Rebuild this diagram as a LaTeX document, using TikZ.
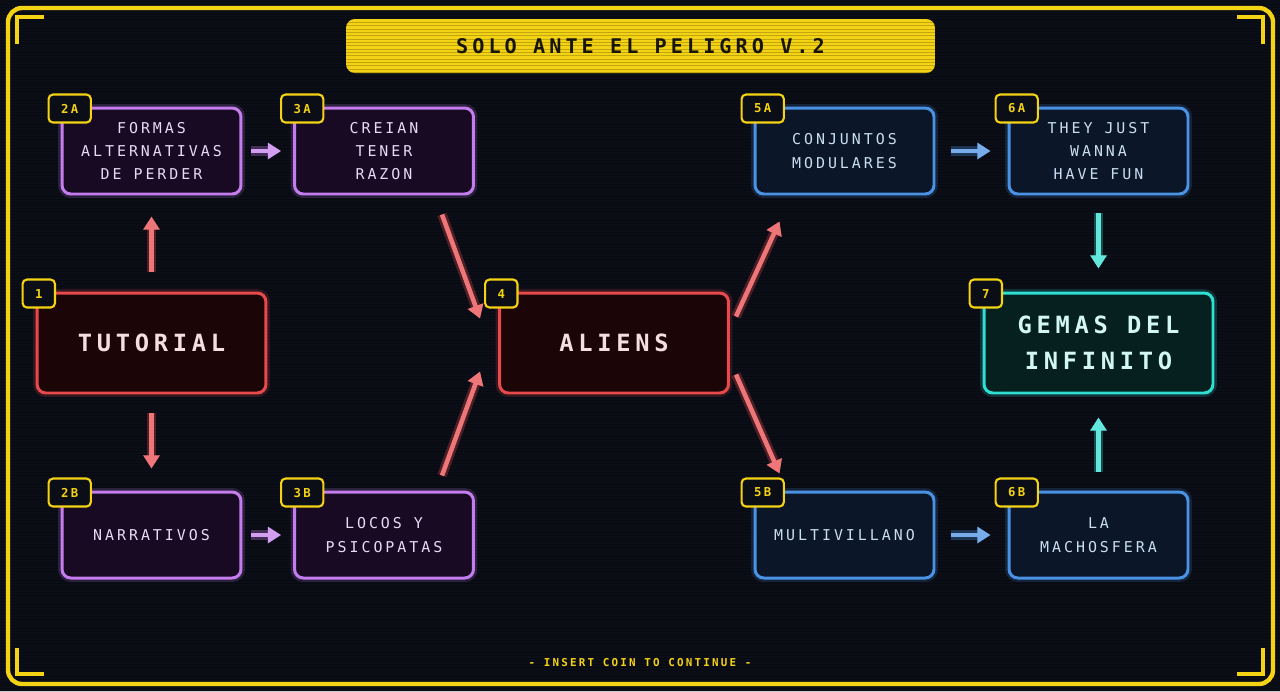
\documentclass[tikz,border=0pt]{standalone}
\usepackage{fontspec}
\usetikzlibrary{arrows.meta}
\newfontfamily\pixfont{DejaVu Sans Mono}[LetterSpace=20]
\definecolor{bg}{HTML}{0B0D17}
\definecolor{hyellow}{HTML}{F4D214}
\definecolor{titletext}{HTML}{17140A}
\definecolor{hred}{HTML}{E8494B}
\definecolor{hredfill}{HTML}{1C0507}
\definecolor{hredtext}{HTML}{F7DEDE}
\definecolor{hpurple}{HTML}{C47CEE}
\definecolor{hpurplefill}{HTML}{170A22}
\definecolor{hpurpletext}{HTML}{EBD8F5}
\definecolor{hblue}{HTML}{4A92E4}
\definecolor{hbluefill}{HTML}{0B1628}
\definecolor{hbluetext}{HTML}{CADDF2}
\definecolor{hcyan}{HTML}{2FDFD1}
\definecolor{hcyanfill}{HTML}{06201F}
\definecolor{hcyantext}{HTML}{D3F7F2}
\tikzset{
  box/.style={draw=#1, fill=#1fill, text=#1text, line width=1.7pt, rounded corners=5pt,
    minimum width=3.58cm, minimum height=1.72cm, align=center, inner sep=0pt,
    font=\pixfont\fontsize{8.5}{13.3}\selectfont,
    preaction={draw=#1, line width=4.5pt, opacity=.18}},
  bigbox/.style={box=#1, minimum width=4.58cm, minimum height=2cm,
    font=\pixfont\bfseries\fontsize{13.5}{20.4}\selectfont},
  badge/.style={draw=hyellow, fill=bg, text=hyellow, line width=1.2pt, rounded corners=2.5pt,
    minimum height=0.56cm, inner xsep=0.25cm, anchor=west,
    font=\pixfont\bfseries\fontsize{7}{7}\selectfont},
  flow/.style={draw=#1!75!white, line width=2.6pt, -{Triangle[length=7.5pt,width=9pt]},
    preaction={draw=#1, line width=5.5pt, opacity=.3}},
  scanline/.style={draw=black, opacity=.2, line width=.5pt},
  bracket/.style={draw=hyellow, line width=1.8pt}
}
\begin{document}
\begin{tikzpicture}[x=0.02cm, y=-0.02cm]
    \useasboundingbox (0,0) rectangle (1280,691);
    \fill[bg] (0,0) rectangle (1280,691);
    \foreach \y in {1,4,...,691}
        \draw[scanline] (0,\y) -- (1280,\y);

    %%draw the frame
    \draw[draw=hyellow, line width=2.5pt, rounded corners=8pt] (8,8) rectangle (1273,684);
        \draw[bracket] (17,44) -- (17,17) -- (44,17);
        \draw[bracket] (1237,17) -- (1263,17) -- (1263,44);
        \draw[bracket] (17,648) -- (17,674) -- (44,674);
        \draw[bracket] (1237,674) -- (1263,674) -- (1263,648);

    %%title and footer
    \node[fill=hyellow, rounded corners=5pt, minimum width=11.78cm, minimum height=1.08cm,
        text=titletext, font=\pixfont\bfseries\fontsize{11.5}{11.5}\selectfont,
        path picture={\foreach \k in {1,...,16}
            \draw[draw=black!60!hyellow, opacity=.35, line width=.5pt]
                ([yshift=-\k*1.9pt]path picture bounding box.north west) --
                ([yshift=-\k*1.9pt]path picture bounding box.north east);}]
        (title) at (640.5,46) {SOLO ANTE EL PELIGRO V.2};
    \node[text=hyellow, font=\pixfont\bfseries\fontsize{6.2}{6.2}\selectfont]
        (footer) at (640,663) {- INSERT COIN TO CONTINUE -};

    %%draw the boxes
    \node[box=hpurple] (n2a) at (151.5,151) {FORMAS\\ALTERNATIVAS\\DE PERDER};
    \node[box=hpurple] (n3a) at (384,151) {CREIAN\\TENER\\RAZON};
    \node[bigbox=hred] (n1) at (151.5,343) {TUTORIAL};
    \node[box=hpurple] (n2b) at (151.5,535) {NARRATIVOS};
    \node[box=hpurple] (n3b) at (384,535) {LOCOS Y\\PSICOPATAS};
    \node[bigbox=hred] (n4) at (614,343) {ALIENS};
    \node[box=hblue] (n5a) at (844.5,151) {CONJUNTOS\\MODULARES};
    \node[box=hblue] (n6a) at (1098.5,151) {THEY JUST\\WANNA\\HAVE FUN};
    \node[bigbox=hcyan] (n7) at (1098.5,343) {GEMAS DEL\\INFINITO};
    \node[box=hblue] (n5b) at (844.5,535) {MULTIVILLANO};
    \node[box=hblue] (n6b) at (1098.5,535) {LA\\MACHOSFERA};

    %%draw the badges
    \node[badge] (b1) at ([shift={(-14,2)}]n1.north west) {1};
    \node[badge] (b2a) at ([shift={(-13,2)}]n2a.north west) {2A};
    \node[badge] (b2b) at ([shift={(-13,2)}]n2b.north west) {2B};
    \node[badge] (b3a) at ([shift={(-13,2)}]n3a.north west) {3A};
    \node[badge] (b3b) at ([shift={(-13,2)}]n3b.north west) {3B};
    \node[badge] (b4) at ([shift={(-14,2)}]n4.north west) {4};
    \node[badge] (b5a) at ([shift={(-13,2)}]n5a.north west) {5A};
    \node[badge] (b5b) at ([shift={(-13,2)}]n5b.north west) {5B};
    \node[badge] (b6a) at ([shift={(-13,2)}]n6a.north west) {6A};
    \node[badge] (b6b) at ([shift={(-13,2)}]n6b.north west) {6B};
    \node[badge] (b7) at ([shift={(-14,2)}]n7.north west) {7};

    %%draw the arrows
    \draw[flow=hred, shorten <=0.4cm, shorten >=0.42cm] (n1.north) -- (n2a.south);
    \draw[flow=hred, shorten <=0.38cm, shorten >=0.44cm] (n1.south) -- (n2b.north);
    \draw[flow=hpurple, shorten <=0.18cm, shorten >=0.24cm] (n2a.east) -- (n3a.west);
    \draw[flow=hpurple, shorten <=0.18cm, shorten >=0.24cm] (n2b.east) -- (n3b.west);
    \draw[flow=hred] ([shift={(-33,19)}]n3a.south east) -- ([shift={(-18,27)}]n4.north west);
    \draw[flow=hred] ([shift={(-33,-15)}]n3b.north east) -- ([shift={(-18,-23)}]n4.south west);
    \draw[flow=hred] ([shift={(6,25)}]n4.north east) -- ([shift={(26,26)}]n5a.south west);
    \draw[flow=hred] ([shift={(6,-20)}]n4.south east) -- ([shift={(26,-17)}]n5b.north west);
    \draw[flow=hblue, shorten <=0.32cm, shorten >=0.34cm] (n5a.east) -- (n6a.west);
    \draw[flow=hblue, shorten <=0.32cm, shorten >=0.34cm] (n5b.east) -- (n6b.west);
    \draw[flow=hcyan, shorten <=0.36cm, shorten >=0.46cm] (n6a.south) -- (n7.north);
    \draw[flow=hcyan, shorten <=0.38cm, shorten >=0.46cm] (n6b.north) -- (n7.south);
\end{tikzpicture}
\end{document}
